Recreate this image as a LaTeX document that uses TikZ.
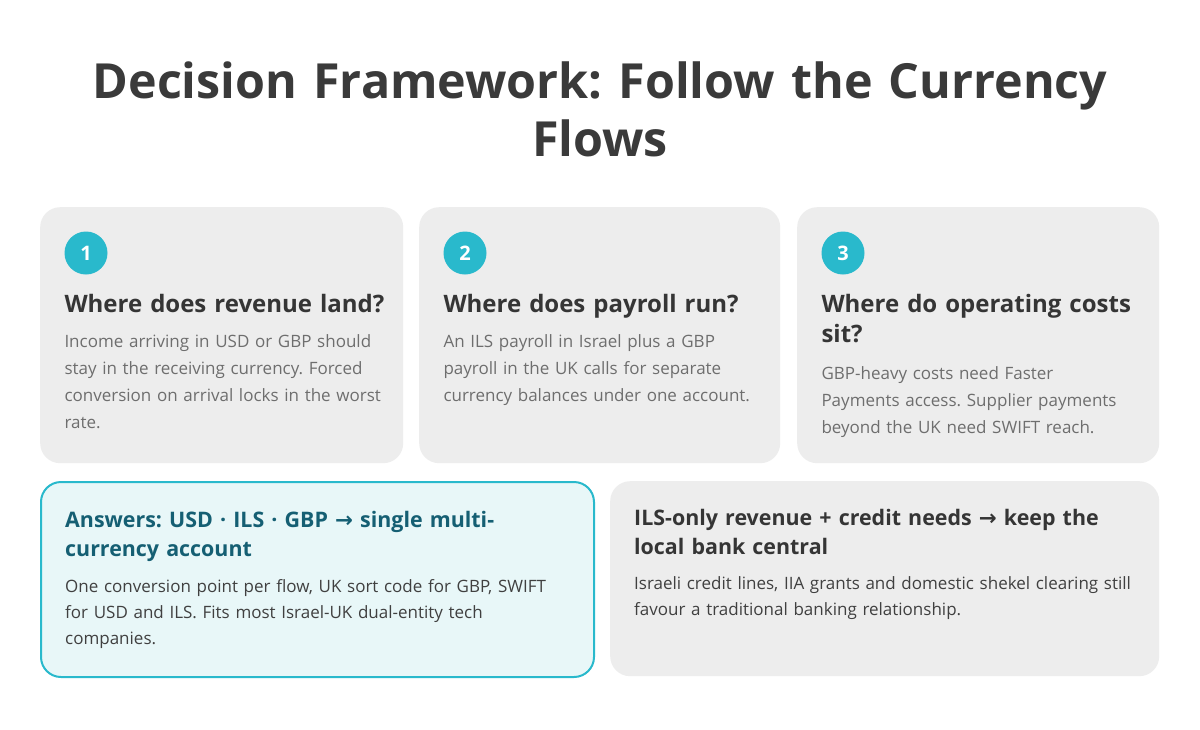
\documentclass[tikz,border=0pt]{standalone}
\usepackage{fontspec}
\setmainfont{Open Sans}
\newfontfamily\symfont{DejaVu Sans}
\usetikzlibrary{positioning}
\frenchspacing

\definecolor{ink}{HTML}{353535}
\definecolor{titleink}{HTML}{3A3A3A}
\definecolor{bodygrey}{HTML}{6E6E6E}
\definecolor{bodydark}{HTML}{404040}
\definecolor{cardgrey}{HTML}{EDEDED}
\definecolor{teal}{HTML}{29B9CC}
\definecolor{tealdeep}{HTML}{155F73}
\definecolor{tealpale}{HTML}{E8F7F8}

\newcommand{\toarrow}{{\symfont\bfseries →}}

\begin{document}
\begin{tikzpicture}[x=1pt,y=-1pt,
    card/.style={fill=cardgrey, rounded corners=20pt, inner sep=0pt, anchor=north west},
    numdot/.style={circle, fill=teal, minimum size=43pt, inner sep=0pt,
        text=white, font=\bfseries\fontsize{20}{24}\selectfont},
    head/.style={inner sep=0pt, text width=335pt, align=left, text=ink,
        font=\bfseries\fontsize{24}{30}\selectfont},
    body/.style={inner sep=0pt, text width=340pt, align=left, text=bodygrey,
        font=\fontsize{17}{27}\selectfont},
    widehead/.style={head, text width=525pt, font=\bfseries\fontsize{21.4}{29}\selectfont},
    widebody/.style={body, text width=525pt, text=bodydark, font=\fontsize{17}{26}\selectfont}
    ]
    \useasboundingbox[fill=white] (0,0) rectangle (1200,729);

    % title
    \node[anchor=base, inner sep=0pt, text width=1180pt, align=center, text=titleink,
        font=\bfseries\fontsize{48.4}{58}\selectfont] (Title) at (600,98)
        {Decision Framework: Follow the Currency\\Flows};

    % three questions
    \node[card, minimum width=363pt, minimum height=256pt] (Card1) at (40,207) {};
    \node[card, minimum width=361pt, minimum height=256pt] (Card2) at (419,207) {};
    \node[card, minimum width=362pt, minimum height=256pt] (Card3) at (797,207) {};

    \node[numdot] (Num1) at ([xshift=46pt,yshift=-46pt]Card1.north west) {1};
    \node[numdot] (Num2) at ([xshift=46pt,yshift=-46pt]Card2.north west) {2};
    \node[numdot] (Num3) at ([xshift=46pt,yshift=-46pt]Card3.north west) {3};

    \coordinate (Foot1) at (Num1.west |- Num1.south);
    \coordinate (Foot2) at (Num2.west |- Num2.south);
    \coordinate (Foot3) at (Num3.west |- Num3.south);

    \node[head, below=38pt of Foot1, anchor=base west] (Head1) {Where does revenue land?};
    \node[head, below=38pt of Foot2, anchor=base west] (Head2) {Where does payroll run?};
    \node[head, below=38pt of Foot3, anchor=base west] (Head3) {Where do operating costs\\sit?};

    \node[body, below=35pt of Head1.base west, anchor=base west] (Body1)
        {Income arriving in USD or GBP should\\stay in the receiving currency. Forced\\conversion on arrival locks in the worst\\rate.};
    \node[body, below=35pt of Head2.base west, anchor=base west] (Body2)
        {An ILS payroll in Israel plus a GBP\\payroll in the UK calls for separate\\currency balances under one account.};
    \node[body, below=67pt of Head3.base west, anchor=base west] (Body3)
        {GBP-heavy costs need Faster\\Payments access. Supplier payments\\beyond the UK need SWIFT reach.};

    % two answers
    \node[card, fill=tealpale, draw=teal, line width=2pt,
        minimum width=553pt, minimum height=195pt] (Card4) at (40,481) {};
    \node[card, minimum width=549pt, minimum height=195pt] (Card5) at (610,481) {};

    \node[widehead, text=tealdeep, anchor=base west] (Head4)
        at ([xshift=25pt,yshift=-46pt]Card4.north west)
        {Answers: USD · ILS · GBP \toarrow{} single multi-\\currency account};
    \node[widehead, anchor=base west] (Head5)
        at ([xshift=24pt,yshift=-44pt]Card5.north west)
        {ILS-only revenue + credit needs \toarrow{} keep the\\local bank central};

    \node[widebody, below=65pt of Head4.base west, anchor=base west] (Body4)
        {One conversion point per flow, UK sort code for GBP, SWIFT\\for USD and ILS. Fits most Israel-UK dual-entity tech\\companies.};
    \node[widebody, below=64pt of Head5.base west, anchor=base west] (Body5)
        {Israeli credit lines, IIA grants and domestic shekel clearing still\\favour a traditional banking relationship.};
\end{tikzpicture}
\end{document}
